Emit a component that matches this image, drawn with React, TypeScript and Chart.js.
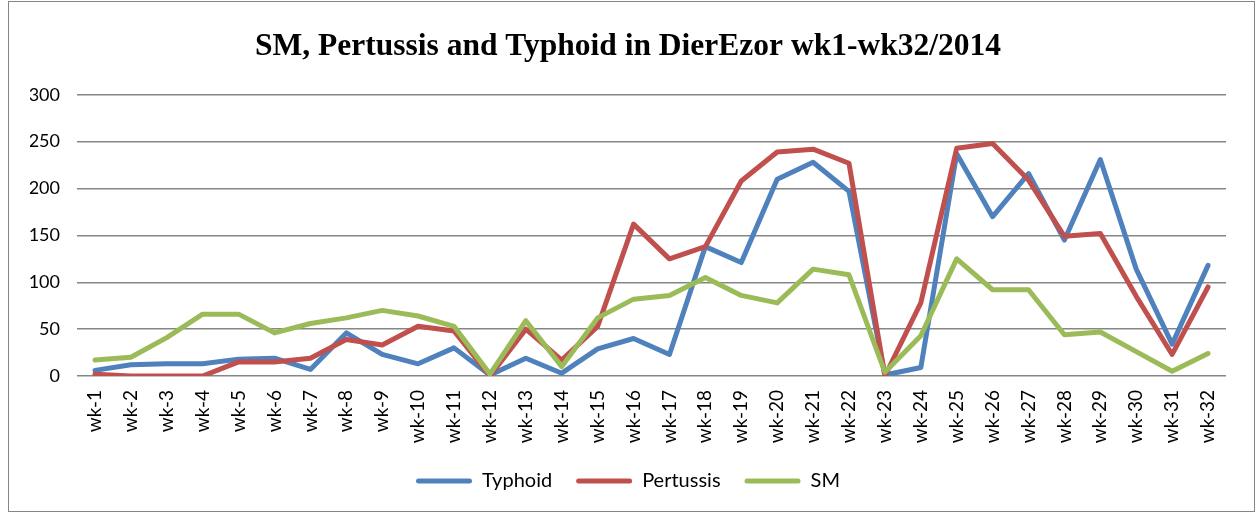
import React, { useEffect, useRef } from "react";
import { Chart, registerables } from "chart.js";

Chart.register(...registerables);

const categories = [
  "wk-1", "wk-2", "wk-3", "wk-4", "wk-5", "wk-6", "wk-7", "wk-8", "wk-9", "wk-10",
  "wk-11", "wk-12", "wk-13", "wk-14", "wk-15", "wk-16", "wk-17", "wk-18", "wk-19", "wk-20",
  "wk-21", "wk-22", "wk-23", "wk-24", "wk-25", "wk-26", "wk-27", "wk-28", "wk-29", "wk-30",
  "wk-31", "wk-32",
];

const typhoid = [6, 12, 13, 13, 18, 19, 7, 46, 23, 13, 30, 1, 19, 3, 29, 40, 23, 138, 121, 210, 228, 197, 1, 9, 237, 170, 216, 145, 231, 114, 34, 118];
const pertussis = [2, 0, 0, 0, 15, 15, 19, 39, 33, 53, 48, 0, 50, 17, 53, 162, 125, 138, 208, 239, 242, 227, 0, 78, 243, 248, 209, 149, 152, 85, 23, 95];
const sm = [17, 20, 41, 66, 66, 46, 56, 62, 70, 64, 53, 2, 59, 10, 62, 82, 86, 105, 86, 78, 114, 108, 4, 43, 125, 92, 92, 44, 47, 26, 5, 24];

const yMin = 0;
const yMax = 300;
const yStep = 50;

const titleText = "SM, Pertussis and Typhoid in DierEzor wk1-wk32/2014";

export default function App() {
  const canvasRef = useRef<HTMLCanvasElement | null>(null);

  useEffect(() => {
    if (!canvasRef.current) return;
    const chart = new Chart(canvasRef.current, {
      type: "line",
      data: {
        labels: categories,
        datasets: [
          { label: "Typhoid", data: typhoid, borderColor: "#4F81BD", backgroundColor: "#4F81BD", order: 2 },
          { label: "Pertussis", data: pertussis, borderColor: "#C0504D", backgroundColor: "#C0504D", order: 1 },
          { label: "SM", data: sm, borderColor: "#9BBB59", backgroundColor: "#9BBB59", order: 0 },
        ].map((d) => ({
          ...d,
          borderWidth: 5,
          pointRadius: 0,
          pointHoverRadius: 0,
          tension: 0,
          borderJoinStyle: "round" as const,
          borderCapStyle: "round" as const,
          fill: false,
        })),
      },
      options: {
        responsive: false,
        animation: false,
        layout: { padding: { left: 30, right: 30, top: 0, bottom: 11 } },
        plugins: {
          title: {
            display: true,
            text: titleText,
            color: "#000",
            font: { family: "Liberation Serif", size: 31.5, weight: "bold", lineHeight: 1.2 },
            padding: { top: 28, bottom: 29 },
          },
          legend: {
            position: "bottom",
            labels: {
              boxWidth: 56,
              boxHeight: 5,
              color: "#000",
              font: { family: "Lato", size: 20 },
              padding: 24,
              useBorderRadius: true,
              borderRadius: 2.5,
              sort: (a: any, b: any) => a.datasetIndex - b.datasetIndex,
              generateLabels: (c: any) => {
                const items = Chart.defaults.plugins.legend.labels.generateLabels(c);
                return items.map((it: any) => ({ ...it, lineWidth: 0, borderRadius: 2.5 }));
              },
            },
          },
          tooltip: { enabled: false },
        },
        scales: {
          x: {
            offset: true,
            grid: { display: false },
            border: { display: false },
            ticks: {
              color: "#000",
              font: { family: "Lato", size: 19 },
              minRotation: 90,
              maxRotation: 90,
              autoSkip: false,
              padding: 6,
            },
            afterFit: (s: any) => {
              s.height = 71;
            },
          },
          y: {
            min: yMin,
            max: yMax,
            grid: { color: "#868686", lineWidth: 1.5, drawTicks: false },
            border: { display: false },
            ticks: { stepSize: yStep, color: "#000", font: { family: "Lato", size: 18 }, padding: 17 },
            afterFit: (s: any) => {
              s.width = 47;
            },
          },
        },
      },
    });
    return () => chart.destroy();
  }, []);

  return (
    <div style={{ position: "fixed", left: 0, top: 0, width: 1256, height: 512, background: "#fff" }}>
      <div
        style={{
          position: "absolute",
          left: 8,
          top: 1,
          width: 1247,
          height: 511,
          border: "1px solid #868686",
          boxSizing: "border-box",
        }}
      />
      <canvas
        ref={canvasRef}
        width={1256}
        height={512}
        style={{ position: "absolute", left: 0, top: 0, width: 1256, height: 512 }}
      />
    </div>
  );
}
